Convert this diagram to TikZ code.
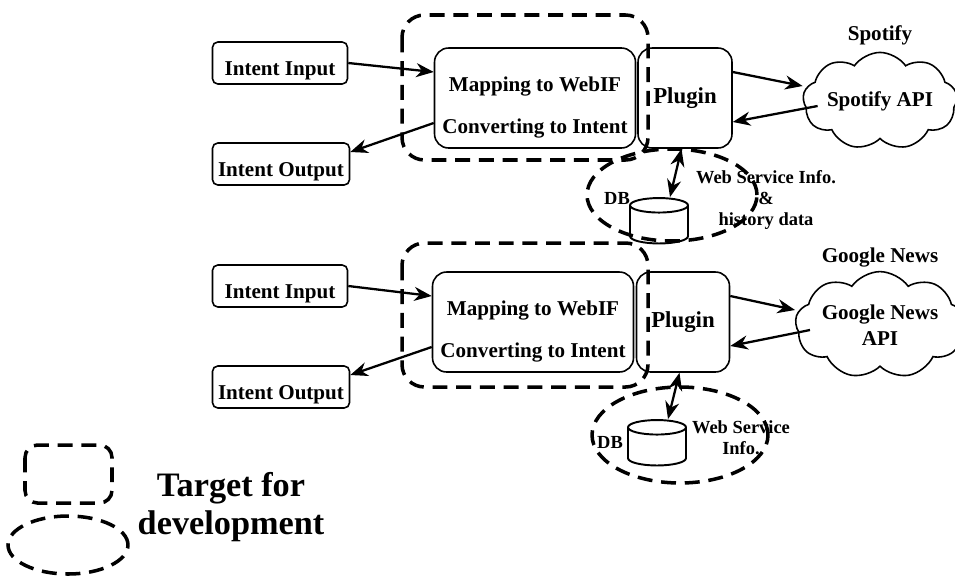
\documentclass[tikz,border=0pt]{standalone}
\usepackage{fontspec}
\setmainfont{Liberation Serif}
\usetikzlibrary{positioning,arrows.meta,shapes.symbols,shapes.geometric}

\begin{document}
\begin{tikzpicture}[x=0.02cm, y=-0.02cm, font=\fontsize{12}{14.5}\selectfont\bfseries,
    >={Stealth[length=10pt,width=8pt]},
    io/.style={draw, rounded corners=3pt, line width=0.9pt, minimum width=2.7cm,
               minimum height=0.84cm, inner sep=1pt, text height=14.5pt, text depth=0pt},
    proc/.style={draw, rounded corners=8pt, line width=0.9pt, minimum height=2cm,
                 inner sep=1pt, align=center},
    api/.style={cloud, draw, cloud puffs=9, cloud puff arc=110, aspect=2, line width=0.9pt,
                align=center, inner sep=0pt},
    dbase/.style={cylinder, shape border rotate=90, draw, aspect=0.5, line width=1.1pt,
                  minimum width=1.16cm, minimum height=0.84cm, inner sep=0.29cm},
    small/.style={font=\fontsize{10.5}{12}\selectfont\bfseries, align=center, inner sep=0pt},
    target/.style={dash pattern=on 8.5pt off 5pt, line width=2pt},
    link/.style={->, line width=1.3pt}]

    \useasboundingbox (0,0) rectangle (955,575);

    % ---- Spotify
    \begin{scope}
      \node[io] (in1) at (280,63) {Intent Input};
      \node[io, minimum width=2.74cm] (out1) at (281,164) {Intent Output};
      \node[proc, minimum width=4.02cm] (map1) at (535,98) {\rule{0pt}{19pt}Mapping to WebIF\\[9pt]Converting to Intent};
      \node[proc, minimum width=1.88cm, font=\fontsize{13}{15}\selectfont\bfseries] (plug1) at (685,98) {Plugin};
      \node[api] (api1) at (880,101) {Spotify API};
      \node (svc1) at (880,35) {Spotify};
      \node[dbase] (db1) at (659,228) {};
      \node[small] (dbl1) at (617,198) {DB};
      \node[small] (info1) at (766,200) {Web Service Info.\\\&\\history data};
      \draw[target, rounded corners=0.45cm] (402,15) rectangle (648,160);
      \draw[target] (672,195) ellipse [x radius=1.7cm, y radius=0.92cm];
      \draw[link] (in1.east) -- ([yshift=0.52cm]map1.west);
      \draw[link] ([yshift=-0.5cm]map1.west) -- ([yshift=0.24cm]out1.east);
      \draw[link] ([yshift=0.52cm]plug1.east) -- ([yshift=0.3cm]api1.west);
      \draw[link] ([xshift=0.3cm, yshift=-0.1cm]api1.west) -- ([yshift=-0.48cm]plug1.east);
      \draw[link, <->] ([xshift=-2pt]plug1.south) -- ([xshift=0.22cm]db1.north);
    \end{scope}

    % ---- Google News
    \begin{scope}[shift={(0,223)}]
      \node[io] (in2) at (280,63) {Intent Input};
      \node[io, minimum width=2.74cm] (out2) at (281,164) {Intent Output};
      \node[proc, minimum width=4.02cm] (map2) at (533,99) {\rule{0pt}{19pt}Mapping to WebIF\\[9pt]Converting to Intent};
      \node[proc, minimum width=1.86cm, font=\fontsize{13}{15}\selectfont\bfseries] (plug2) at (683,99) {Plugin};
      \node[api] (api2) at (880,102) {Google News\\API};
      \node (svc2) at (880,35) {Google News};
      \node[dbase] (db2) at (657,227) {};
      \node[small] (dbl2) at (610,219) {DB};
      \node[small] (info2) at (741,215) {Web Service\\Info.};
      \draw[target, rounded corners=0.45cm] (402,20) rectangle (648,164);
      \draw[target] (680,212) ellipse [x radius=1.76cm, y radius=0.96cm];
      \draw[link] (in2.east) -- ([yshift=0.52cm]map2.west);
      \draw[link] ([yshift=-0.5cm]map2.west) -- ([yshift=0.24cm]out2.east);
      \draw[link] ([yshift=0.52cm]plug2.east) -- ([yshift=0.3cm]api2.west);
      \draw[link] ([xshift=0.3cm, yshift=-0.1cm]api2.west) -- ([yshift=-0.48cm]plug2.east);
      \draw[link, <->] ([xshift=-2pt]plug2.south) -- ([xshift=0.22cm]db2.north);
    \end{scope}

    % ---- legend
    \draw[target, rounded corners=0.25cm] (25,445) rectangle (112,503);
    \draw[target] (68,545) ellipse [x radius=1.2cm, y radius=0.58cm];
    \node[font=\fontsize{19.5}{22}\selectfont\bfseries, align=center] (legend) at (231,507) {Target for\\development};
  \end{tikzpicture}
\end{document}
